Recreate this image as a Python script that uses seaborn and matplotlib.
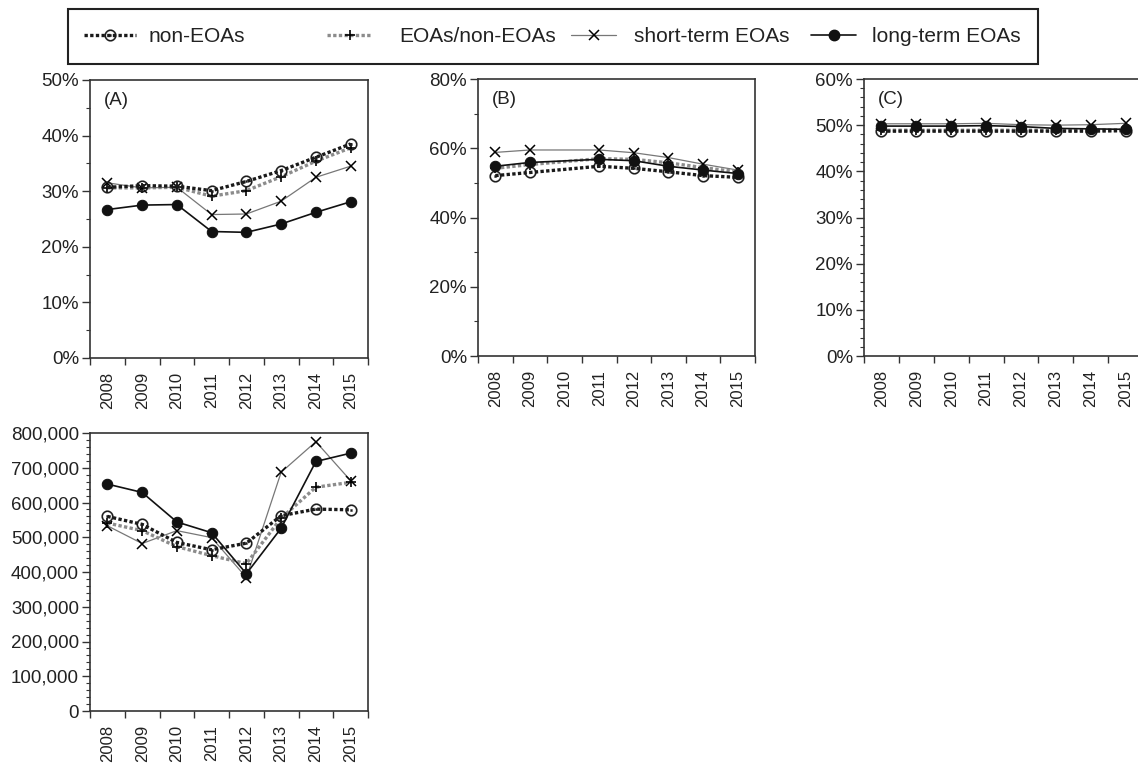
import numpy as np
import pandas as pd
import matplotlib
matplotlib.use("Agg")
import matplotlib.pyplot as plt
import seaborn as sns
from matplotlib.lines import Line2D
from matplotlib.patches import Rectangle
from matplotlib.ticker import FixedLocator, MultipleLocator, PercentFormatter, StrMethodFormatter

# ---------------- data ----------------
years = ["2008", "2009", "2010", "2011", "2012", "2013", "2014", "2015"]
series_names = ["non-EOAs", "EOAs/non-EOAs", "short-term EOAs", "long-term EOAs"]

# Panel A (share)
a_non = [0.307, 0.310, 0.309, 0.301, 0.3175, 0.337, 0.361, 0.385]
a_mix = [0.306, 0.306, 0.307, 0.291, 0.301, 0.326, 0.354, 0.378]
a_short = [0.315, 0.306, 0.307, 0.258, 0.259, 0.282, 0.325, 0.345]
a_long = [0.267, 0.275, 0.276, 0.2275, 0.226, 0.241, 0.262, 0.281]

# Panel B (share) - no value for 2010
b_non = [0.521, 0.530, np.nan, 0.548, 0.542, 0.532, 0.521, 0.516]
b_mix = [0.542, 0.553, np.nan, 0.570, 0.568, 0.558, 0.544, 0.532]
b_short = [0.588, 0.595, np.nan, 0.595, 0.587, 0.573, 0.554, 0.537]
b_long = [0.548, 0.559, np.nan, 0.568, 0.564, 0.548, 0.537, 0.527]

# Panel C (share)
c_non = [0.487, 0.487, 0.487, 0.487, 0.487, 0.487, 0.487, 0.488]
c_mix = [0.489, 0.489, 0.489, 0.489, 0.489, 0.489, 0.489, 0.490]
c_short = [0.503, 0.503, 0.503, 0.504, 0.501, 0.500, 0.501, 0.504]
c_long = [0.498, 0.498, 0.498, 0.499, 0.497, 0.493, 0.492, 0.491]

# Panel D (amount)
d_non = [560000, 537000, 485000, 464000, 483000, 562000, 581000, 579000]
d_mix = [541000, 519000, 473000, 447000, 424000, 555000, 644000, 658000]
d_short = [533000, 482000, 519000, 499000, 384000, 687000, 775000, 663000]
d_long = [653000, 629000, 544000, 513000, 395000, 526000, 718000, 742000]

panel_labels = ["(A)", "(B)", "(C)", ""]

# ---------------- style ----------------
sns.set_theme(style="ticks")
plt.rcParams["font.family"] = ["Liberation Sans", "DejaVu Sans"]
plt.rcParams["axes.edgecolor"] = "#333333"
plt.rcParams["xtick.color"] = "#333333"
plt.rcParams["ytick.color"] = "#333333"

dot = (0, (1.0, 0.7))
styles = {
    "non-EOAs": dict(color="#1a1a1a", linestyle=dot, linewidth=2.4, marker=r"$\odot$",
                     markersize=8.5, markerfacecolor="#1a1a1a", markeredgecolor="#1a1a1a",
                     markeredgewidth=0.2, zorder=4),
    "EOAs/non-EOAs": dict(color="#8c8c8c", linestyle=dot, linewidth=2.4, marker="+",
                          markersize=7.5, markerfacecolor="black", markeredgecolor="black",
                          markeredgewidth=1.2, zorder=3),
    "short-term EOAs": dict(color="#777777", linestyle="-", linewidth=0.9, marker="x",
                            markersize=7, markerfacecolor="black", markeredgecolor="black",
                            markeredgewidth=1.1, zorder=2),
    "long-term EOAs": dict(color="#111111", linestyle="-", linewidth=1.2, marker="o",
                           markersize=7.5, markerfacecolor="#111111", markeredgecolor="#111111",
                           zorder=5),
}

W, H = 1138, 768
fig = plt.figure(figsize=(W / 100, H / 100), dpi=100)

def rect(left, top, right, bottom):
    return [left / W, 1 - bottom / H, (right - left) / W, (bottom - top) / H]

panels = [
    dict(rect=rect(90, 80, 368, 358), data=[a_non, a_mix, a_short, a_long], ymax=0.5, major=0.1, minor=0.05, pct=True),
    dict(rect=rect(478, 79, 755, 356), data=[b_non, b_mix, b_short, b_long], ymax=0.8, major=0.2, minor=0.1, pct=True),
    dict(rect=rect(864, 79, 1143, 356), data=[c_non, c_mix, c_short, c_long], ymax=0.6, major=0.1, minor=0.02, pct=True),
    dict(rect=rect(90, 433, 368, 711), data=[d_non, d_mix, d_short, d_long], ymax=800000, major=100000, minor=20000, pct=False),
]

draw_order = ["short-term EOAs", "EOAs/non-EOAs", "non-EOAs", "long-term EOAs"]
xpos = np.arange(len(years))

for p, lab in zip(panels, panel_labels):
    ax = fig.add_axes(p["rect"])
    frames = []
    for name, vals in zip(series_names, p["data"]):
        frames.append(pd.DataFrame({"x": xpos, "y": vals, "series": name}))
    df = pd.concat(frames, ignore_index=True).dropna()
    for name in draw_order:
        sub = df[df["series"] == name]
        sns.lineplot(data=sub, x="x", y="y", ax=ax, estimator=None, sort=False,
                     legend=False, **styles[name])
    ax.set_xlim(-0.5, len(years) - 0.5)
    ax.set_ylim(0, p["ymax"])
    ax.set_xlabel("")
    ax.set_ylabel("")
    # x: labels at category centres, tick marks at boundaries
    ax.xaxis.set_major_locator(FixedLocator(xpos))
    ax.set_xticklabels(years, rotation=90, fontsize=12, color="#222222")
    ax.xaxis.set_minor_locator(FixedLocator(np.arange(-0.5, len(years), 1.0)))
    ax.tick_params(axis="x", which="major", length=0, pad=10)
    ax.tick_params(axis="x", which="minor", length=5, width=1.0, direction="out")
    # y
    ax.yaxis.set_major_locator(MultipleLocator(p["major"]))
    ax.yaxis.set_minor_locator(MultipleLocator(p["minor"]))
    if p["pct"]:
        ax.yaxis.set_major_formatter(PercentFormatter(1.0, decimals=0))
    else:
        ax.yaxis.set_major_formatter(StrMethodFormatter("{x:,.0f}"))
    ax.tick_params(axis="y", which="major", length=6, width=1.0, labelsize=13.5,
                   labelcolor="#222222", pad=2)
    ax.tick_params(axis="y", which="minor", length=3, width=0.8)
    for s in ax.spines.values():
        s.set_visible(True)
        s.set_linewidth(1.2)
        s.set_color("#333333")
    if lab:
        ax.text(0.05, 0.958, lab, transform=ax.transAxes, ha="left", va="top",
                fontsize=13.5, color="#222222")

# legend: frame plus one entry per series, placed like the original
fs = 15
em = fs * 100 / 72
fig.add_artist(Rectangle((68 / W, 1 - 64 / H), (1038 - 68) / W, (64 - 9) / H,
                         transform=fig.transFigure, fill=False,
                         edgecolor="#222222", linewidth=1.5))
# (handle start px, handle end px, text start px)
entry_pos = [(84, 136, 149), (327, 372, 399), (571, 616, 634), (811, 856, 872)]
for name, (h0, h1, t0) in zip(series_names, entry_pos):
    st = dict(styles[name])
    st.pop("zorder")
    h = Line2D([], [], label=name, **st)
    lg = fig.legend(handles=[h], loc="center left",
                    bbox_to_anchor=(h0 / W, 1 - 36.5 / H),
                    frameon=False, fontsize=fs, borderpad=0, borderaxespad=0,
                    handlelength=(h1 - h0) / em, handletextpad=(t0 - h1) / em)
    for t in lg.get_texts():
        t.set_color("#222222")

fig.savefig("out.png", dpi=100)
